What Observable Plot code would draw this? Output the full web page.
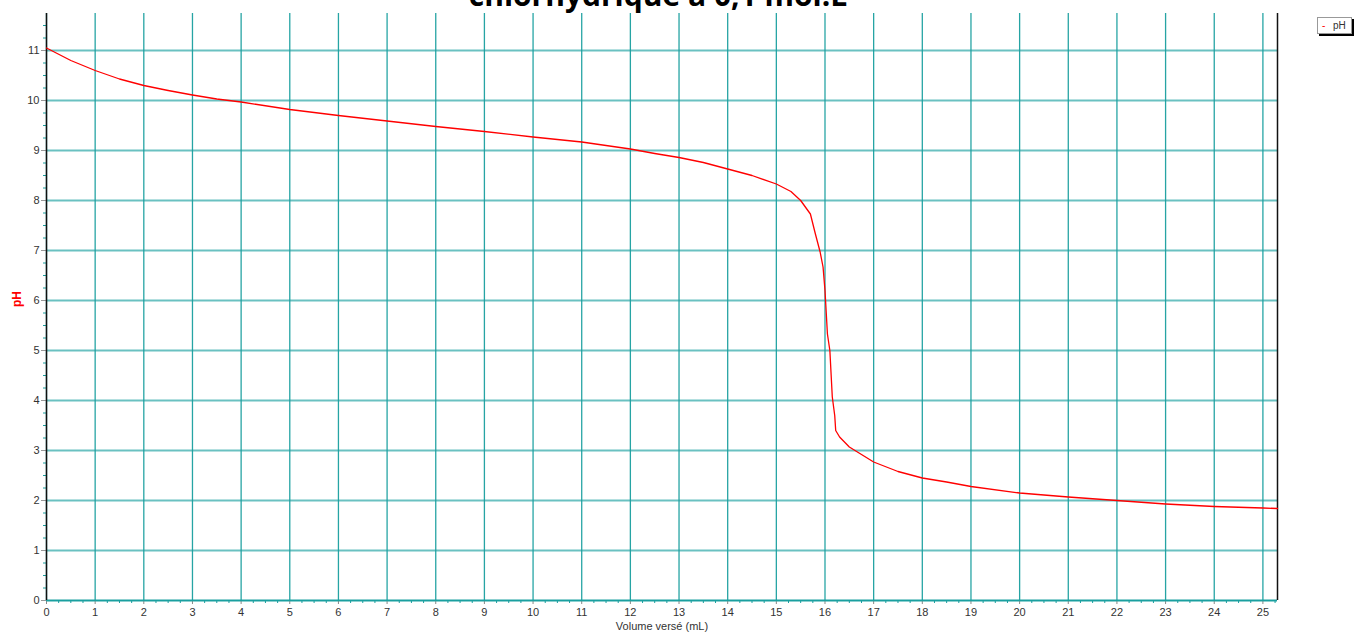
<!DOCTYPE html>
<html>
<head>
<meta charset="utf-8">
<script src="https://cdn.jsdelivr.net/npm/d3@7"></script>
<script src="https://cdn.jsdelivr.net/npm/@observablehq/plot@0.6"></script>
<style>
  html, body { margin: 0; padding: 0; background: white; overflow: hidden; }
  #wrap { position: relative; width: 1359px; height: 636px; }
  #title { position: absolute; left: 0; width: 1316px; top: -20px; text-align: center; line-height: 1;
           font-family: "Open Sans", "Noto Sans", sans-serif; font-weight: bold; font-size: 30px; color: #000; white-space: nowrap; }
  #legend { position: absolute; left: 1317px; top: 17px; width: 33px; height: 15px; background: white;
            border: 1px solid #999; box-shadow: 2px 2px 0 #000; font-family: "Liberation Sans", Arial, sans-serif;
            font-size: 10px; line-height: 15px; color: #333; }
  #legend .dash { color: red; position: absolute; left: 4px; }
  #legend .name { position: absolute; left: 15px; }
</style>
</head>
<body>
<div id="wrap">
  <div id="chart"></div>
  <div id="title">chlorhydrique à 0,1 mol.L</div>
  <div id="legend"><span class="dash">-</span><span class="name">pH</span></div>
</div>
<script>
// Data
const volume = [0, 0.5, 1, 1.5, 2, 2.5, 3, 3.5, 4, 5, 6, 7, 8, 9, 10, 11, 12, 12.5, 13, 13.5, 14, 14.5, 15, 15.3, 15.5, 15.7, 15.8, 15.9, 15.96, 16.0, 16.05, 16.1, 16.15, 16.2, 16.22, 16.3, 16.5, 16.75, 17, 17.5, 18, 18.5, 19, 20, 21, 22, 23, 24, 25, 25.3];
const pH = [11.05, 10.8, 10.6, 10.43, 10.3, 10.2, 10.11, 10.03, 9.97, 9.82, 9.70, 9.59, 9.48, 9.38, 9.27, 9.17, 9.03, 8.94, 8.86, 8.76, 8.63, 8.5, 8.33, 8.18, 8.0, 7.73, 7.34, 6.97, 6.67, 6.2, 5.33, 5.0, 4.07, 3.7, 3.4, 3.27, 3.07, 2.92, 2.77, 2.58, 2.45, 2.37, 2.28, 2.15, 2.07, 2.0, 1.93, 1.88, 1.85, 1.84];
const xTicks = [0,1,2,3,4,5,6,7,8,9,10,11,12,13,14,15,16,17,18,19,20,21,22,23,24,25];
const yTicks = [0,1,2,3,4,5,6,7,8,9,10,11];
const xLabel = "Volume versé (mL)";
const yLabel = "pH";
const xMax = 25.3, yMax = 11.74;

const data = volume.map((v, i) => ({v, p: pH[i]}));
const xMinor = d3.range(0, xMax + 0.001, 0.25).filter(d => Math.abs(d - Math.round(d)) > 0.01);
const yMinor = d3.range(0, yMax, 0.25).filter(d => Math.abs(d - Math.round(d)) > 0.01);
const teal = "#1a9f9f";
const intFmt = d3.format("d");

const chart = Plot.plot({
  width: 1359, height: 636,
  marginLeft: 46, marginRight: 82, marginTop: 13, marginBottom: 36,
  x: {domain: [0, xMax]},
  y: {domain: [0, yMax]},
  style: {fontFamily: "'Liberation Sans', Arial, sans-serif", fontSize: "11px", color: "#333", background: "white"},
  marks: [
    Plot.gridX(xTicks, {stroke: teal, strokeOpacity: 0.95, strokeWidth: 1.3}),
    Plot.gridY(yTicks, {stroke: teal, strokeOpacity: 0.65, strokeWidth: 2}),
    Plot.axisX(xMinor, {tickSize: 3, stroke: teal, tickFormat: () => "", label: null}),
    Plot.axisX(xTicks, {tickSize: 4, stroke: "#888", fill: "#333", tickPadding: 4, tickFormat: intFmt, label: null}),
    Plot.axisY(yMinor, {tickSize: 3, stroke: teal, tickFormat: () => "", label: null}),
    Plot.axisY(yTicks, {tickSize: 5, stroke: "#999", fill: "#333", tickPadding: 2, tickFormat: intFmt, label: null}),
    Plot.ruleY([0], {stroke: teal, strokeWidth: 1.5}),
    Plot.ruleX([0], {stroke: "#111", strokeWidth: 1.5}),
    Plot.ruleX([xMax], {stroke: "#111", strokeWidth: 1.5}),
    Plot.line(data, {x: "v", y: "p", stroke: "red", strokeWidth: 1.3}),
    Plot.text([xLabel], {frameAnchor: "bottom", dy: 29, fill: "#333", fontSize: 11}),
    Plot.text([yLabel], {frameAnchor: "left", dx: -29, rotate: -90, fill: "red", fontWeight: "bold", fontSize: 12})
  ]
});
document.getElementById("chart").appendChild(chart);
</script>
</body>
</html>
